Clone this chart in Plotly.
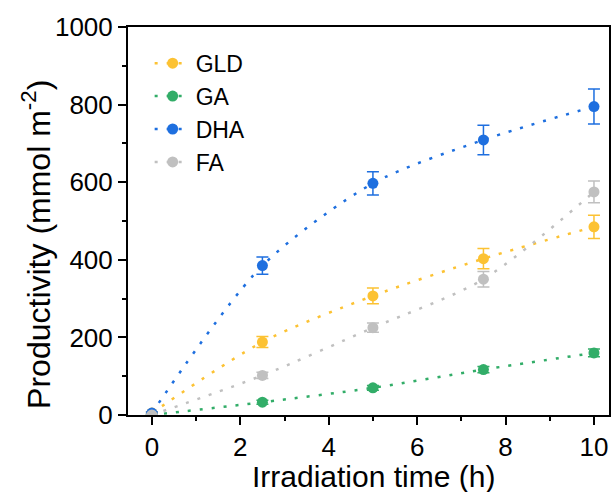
import plotly.graph_objects as go

time_h = [0, 2.5, 5, 7.5, 10]
series_names = ["GLD", "GA", "DHA", "FA"]
gld = [5, 188, 307, 403, 485]
gld_err = [3, 14, 20, 26, 30]
ga = [0, 33, 70, 117, 160]
ga_err = [2, 5, 6, 8, 10]
dha = [5, 385, 597, 709, 795]
dha_err = [3, 22, 30, 38, 45]
fa = [0, 102, 225, 350, 575]
fa_err = [2, 8, 12, 20, 28]
colors = ["#FCC233", "#32AD68", "#1E6FDF", "#C0C0C0"]

values = [gld, ga, dha, fa]
errors = [gld_err, ga_err, dha_err, fa_err]

FONT = "Liberation Sans, Arial"

fig = go.Figure()
for name, y, e, c in zip(series_names, values, errors, colors):
    fig.add_trace(go.Scatter(
        x=time_h, y=y, name=name, mode="lines+markers",
        line=dict(color=c, width=2.5, dash="3px,9px", shape="spline", smoothing=0.8),
        marker=dict(color=c, size=11),
        error_y=dict(type="data", array=e, visible=True, color=c, thickness=1.5, width=6),
    ))

axis_common = dict(
    showline=True, linecolor="black", linewidth=2, mirror=True,
    ticks="outside", ticklen=8, tickwidth=2, tickcolor="black",
    showgrid=False, zeroline=False,
    tickfont=dict(family=FONT, size=26, color="black"),
)

fig.update_xaxes(range=[-0.54, 10.34], tickvals=[0, 2, 4, 6, 8, 10],
                 minor=dict(tickvals=[1, 3, 5, 7, 9], ticks="outside", ticklen=4, tickwidth=2, tickcolor="black"),
                 **axis_common)
fig.update_yaxes(range=[0, 1000], tickvals=[0, 200, 400, 600, 800, 1000],
                 minor=dict(tickvals=[100, 300, 500, 700, 900], ticks="outside", ticklen=4, tickwidth=2, tickcolor="black"),
                 **axis_common)

fig.add_annotation(
    text="Productivity (mmol m<sup>-2</sup>)", textangle=-90,
    xref="paper", yref="paper", x=-0.19, y=0.44, xanchor="center", yanchor="middle",
    showarrow=False, font=dict(family=FONT, size=32, color="black"),
)
fig.add_annotation(
    text="Irradiation time (h)",
    xref="paper", yref="paper", x=0.51, y=-0.111, xanchor="center", yanchor="top",
    showarrow=False, font=dict(family=FONT, size=30, color="black"),
)

fig.update_layout(
    width=614, height=492,
    margin=dict(l=128, r=3, t=27, b=77),
    plot_bgcolor="white", paper_bgcolor="white",
    showlegend=True,
    legend=dict(x=0.045, y=0.962, xanchor="left", yanchor="top",
                bgcolor="rgba(0,0,0,0)", font=dict(family=FONT, size=23, color="black"),
                itemwidth=36, tracegroupgap=0),
)

fig.write_html("out.html")
